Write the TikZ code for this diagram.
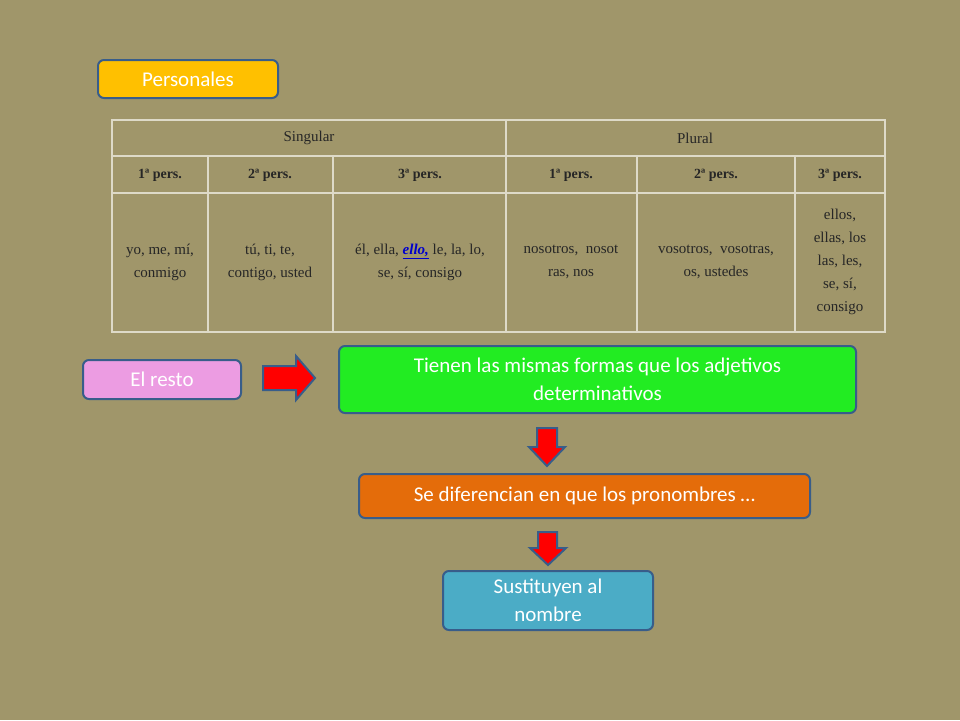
\documentclass[tikz,border=0pt]{standalone}
\usepackage{fontspec}
\setmainfont{Liberation Serif}
\newfontfamily\calfont{Carlito}
\definecolor{bg}{RGB}{160,150,106}
\definecolor{bd}{RGB}{56,93,138}
\definecolor{tl}{RGB}{222,218,200}
\begin{document}
\begin{tikzpicture}[x=1pt,y=-1pt,
 box/.style={draw=bd,line width=2pt,rounded corners=6pt,text=white,font=\calfont\fontsize{21}{28}\selectfont,align=center,inner sep=0pt},
 rarr/.style={draw=bd,line width=2pt,fill=red,line join=miter},
 cell/.style={font=\fontsize{15}{23}\selectfont,align=center,text=black!85},
 hcell/.style={font=\bfseries\fontsize{14}{16}\selectfont,text=black!85}]
\fill[bg] (0,0) rectangle (960,720);
\useasboundingbox (0,0) rectangle (960,720);
% table
\draw[tl,line width=1.2pt] (112,120) rectangle (885,332)
 (112,156)--(885,156) (112,193)--(885,193)
 (506,120)--(506,332) (208,156)--(208,332) (333,156)--(333,332) (637,156)--(637,332) (795,156)--(795,332);
\node[cell] (s) at (309,138) {Singular};
\node[cell] (p) at (695,138) {Plural};
\node[hcell] (h1) at (160,175) {1ª pers.};
\node[hcell] (h2) at (270,175) {2ª pers.};
\node[hcell] (h3) at (420,175) {3ª pers.};
\node[hcell] (h4) at (571,175) {1ª pers.};
\node[hcell] (h5) at (716,175) {2ª pers.};
\node[hcell] (h6) at (840,175) {3ª pers.};
\node[cell] (c1) at (160,262) {yo, me, mí,\\conmigo};
\node[cell] (c2) at (270,262) {tú, ti, te,\\contigo, usted};
\node[cell] (c3) at (420,262) {él, ella, {\color{blue!80!black}\bfseries\itshape\underline{ello,}} le, la, lo,\\se, sí, consigo};
\node[cell] (c4) at (571,262) {nosotros,\ \ nosot\\ras, nos};
\node[cell] (c5) at (716,262) {vosotros,\ \ vosotras,\\os, ustedes};
\node[cell] (c6) at (840,262) {ellos,\\ellas, los\\las, les,\\se, sí,\\consigo};
% boxes
\node[box,fill={rgb,255:red,255;green,192;blue,0},minimum width=180pt,minimum height=38pt] (pers) at (188,79) {Personales};
\node[box,fill={rgb,255:red,236;green,156;blue,226},minimum width=158pt,minimum height=39pt] (resto) at (162,379.5) {El resto};
\node[box,fill={rgb,255:red,34;green,236;blue,34},minimum width=517pt,minimum height=67pt] (tien) at (597.5,379.5) {Tienen las mismas formas que los adjetivos\\determinativos};
\node[box,fill={rgb,255:red,228;green,108;blue,10},minimum width=451pt,minimum height=44pt] (dif) at (584.5,496) {Se diferencian en que los pronombres …};
\node[box,fill={rgb,255:red,75;green,172;blue,198},minimum width=210pt,minimum height=59pt] (sust) at (548,600.5) {Sustituyen al\\nombre};
% arrows
\draw[rarr] (263,366) -- (296,366) -- (296,356) -- (315,378) -- (296,400) -- (296,390) -- (263,390) -- cycle;
\draw[rarr] (537,428) -- (557,428) -- (557,447) -- (565,447) -- (547,466) -- (529,447) -- (537,447) -- cycle;
\draw[rarr] (538,532) -- (557,532) -- (557,548) -- (566,548) -- (548,565) -- (530,548) -- (538,548) -- cycle;
\end{tikzpicture}
\end{document}
